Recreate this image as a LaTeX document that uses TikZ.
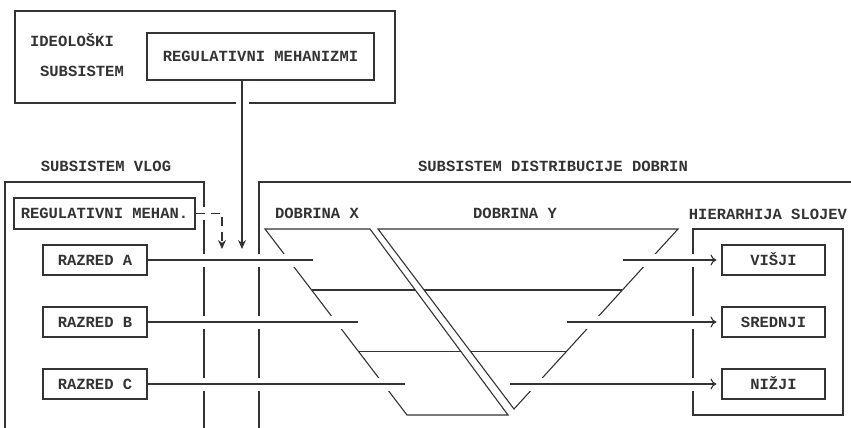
\documentclass[tikz,border=0pt]{standalone}
\usepackage{fontspec}
\setmonofont{Liberation Mono}
\usepackage{tikz}
\usetikzlibrary{arrows.meta}
\usetikzlibrary{calc}
\tikzset{
	plain text/.style={font=\ttfamily\bfseries\fontsize{15.5}{18}\selectfont,inner sep=0pt,text height=10pt,text depth=0pt},
	box node/.style={plain text,draw,minimum height=30pt},
	link/.style={preaction={draw=white,line width=13pt,arrows=-,solid}}
}

\begin{document}
\begin{tikzpicture}[x=1pt,y=-1pt,>={Stealth[length=9pt,width=8pt]},line width=1.1pt,color=black!80]
	\useasboundingbox (0,0) rectangle (851,428);
	\draw (15,11) rectangle (395,103);
	\node [plain text] (ideo1) at (72,42) {IDEOLOŠKI};
	\node [plain text] (ideo2) at (82,72) {SUBSISTEM};
	\node [box node,minimum width=227pt,minimum height=47pt] (regmeh) at (260.5,56.5) {REGULATIVNI MEHANIZMI};

	\node [plain text] (vlog) at (106,166) {SUBSISTEM VLOG};
	\draw (5,428) -- (5,182) -- (204,182) -- (204,428);
	\node [box node,minimum width=181pt,minimum height=31pt] (mehan) at (104.5,213.5) {REGULATIVNI MEHAN.};
	\node [box node,minimum width=104pt] (razA) at (95,260) {RAZRED A};
	\node [box node,minimum width=104pt] (razB) at (95,322) {RAZRED B};
	\node [box node,minimum width=104pt] (razC) at (95,384) {RAZRED C};

	\node [plain text] (distr) at (553,166) {SUBSISTEM DISTRIBUCIJE DOBRIN};
	\draw (259,428) -- (259,182) -- (851,182);
	\node [plain text] (dobX) at (317,213) {DOBRINA X};
	\node [plain text] (dobY) at (515,213) {DOBRINA Y};
	\node [plain text] (hier) at (768,214) {HIERARHIJA SLOJEV};
	\draw (693,229) rectangle (843,415);
	\node [box node,minimum width=103pt] (visji) at (773.5,260) {VIŠJI};
	\node [box node,minimum width=103pt] (srednji) at (773.5,322) {SREDNJI};
	\node [box node,minimum width=103pt] (nizji) at (773.5,384) {NIŽJI};

	\coordinate (xA) at (265,229);
	\coordinate (xB) at (370,229);
	\coordinate (xC) at (508,415);
	\coordinate (xD) at (407,415);
	\coordinate (yA) at (378,229);
	\coordinate (yB) at (678,229);
	\coordinate (yC) at (514,409);
	\draw (xA) -- (xB) -- (xC) -- (xD) -- cycle;
	\draw (yA) -- (yB) -- (yC) -- cycle;
	\draw ($(xA)!0.328!(xD)$) -- ($(xB)!0.328!(xC)$);
	\draw ($(xA)!0.661!(xD)$) -- ($(xB)!0.661!(xC)$);
	\draw ($(yA)!0.339!(yC)$) -- ($(yB)!0.339!(yC)$);
	\draw ($(yA)!0.683!(yC)$) -- ($(yB)!0.683!(yC)$);

	\coordinate (tipR) at (242,249);
	\coordinate (tipM) at (222,249);
	\coordinate (in1) at (313,260);
	\coordinate (in2) at (358,322);
	\coordinate (in3) at (405,384);
	\coordinate (out1) at (623,260);
	\coordinate (out2) at (567,322);
	\coordinate (out3) at (510,384);

	\draw [->,link] (regmeh.south -| tipR) -- (tipR);
	\draw [->,link,dash pattern=on 9pt off 6pt] (mehan.east) -| (tipM);
	\draw [link] (razA) -- (in1);
	\draw [link] (razB) -- (in2);
	\draw [link] (razC) -- (in3);
	\draw [-{To[length=6pt,width=11pt]},link,shorten >=5pt] (out1) -- (visji);
	\draw [-{To[length=6pt,width=11pt]},link,shorten >=5pt] (out2) -- (srednji);
	\draw [-{To[length=6pt,width=11pt]},link,shorten >=5pt] (out3) -- (nizji);
\end{tikzpicture}
\end{document}
